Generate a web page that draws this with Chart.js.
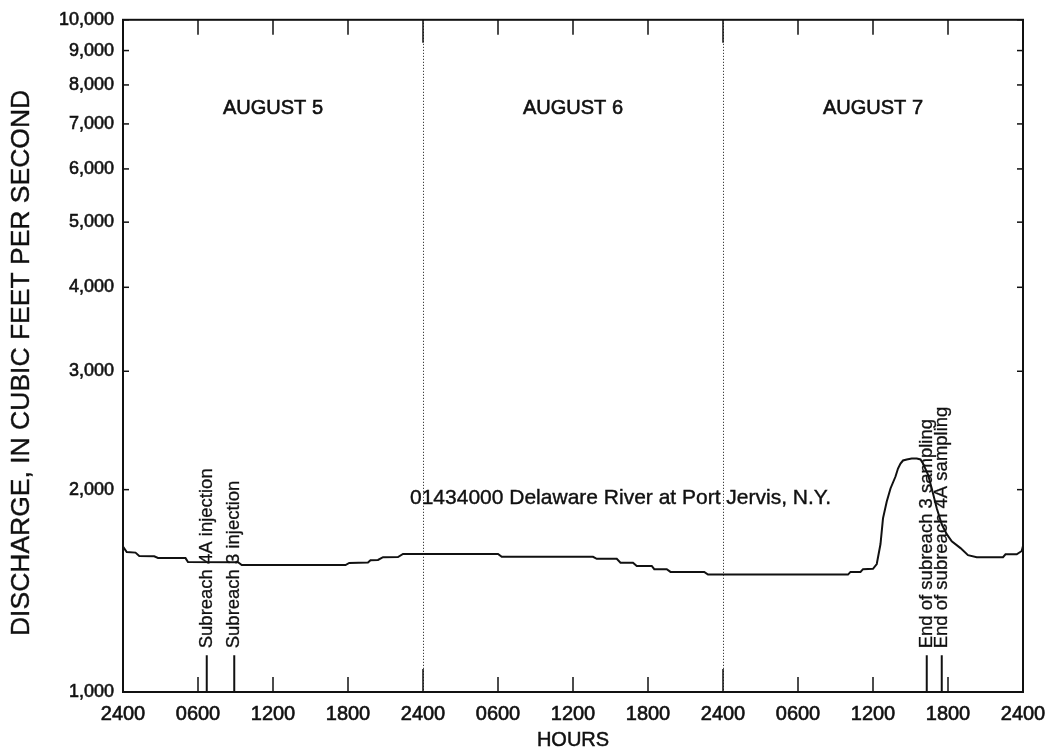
<!DOCTYPE html>
<html>
<head>
<meta charset="utf-8">
<title>Delaware River at Port Jervis</title>
<script src="https://cdn.jsdelivr.net/npm/chart.js@4.4.1/dist/chart.umd.min.js"></script>
<style>
  html, body { margin: 0; padding: 0; background: #fff; }
  #wrap { width: 1056px; height: 754px; }
</style>
</head>
<body>
<div id="wrap"><canvas id="chart" width="1056" height="754"></canvas></div>
<script>
(function () {
    'use strict';

    // Hours since 2400 on August 4, and discharge in cubic feet per second
    const hours = [0, 0.3, 1.0, 1.3, 2.5, 2.8, 5.0, 5.2, 9.2, 9.5,
        17.8, 18.1, 19.6, 19.8, 20.4, 20.8, 22.0, 22.4, 30.0, 30.3,
        37.6, 37.9, 39.5, 39.8, 40.8, 41.1, 42.3, 42.5, 43.5, 43.8,
        46.5, 46.8, 58.0, 58.2, 59.0, 59.2, 60.0, 60.3, 60.6, 60.8,
        61.1, 61.4, 61.8, 62.0, 62.2, 62.4, 62.7, 63.1, 63.5, 63.8,
        64.0, 64.4, 64.7, 65.1, 65.5, 65.9, 66.3, 67.0, 67.6, 68.3,
        70.4, 70.6, 71.5, 71.9, 72.0];
    const discharge = [1645, 1615, 1612, 1594, 1592, 1583, 1582, 1561, 1560, 1545,
        1545, 1556, 1558, 1570, 1572, 1587, 1588, 1605, 1605, 1589,
        1589, 1578, 1578, 1557, 1557, 1540, 1540, 1523, 1523, 1509,
        1509, 1495, 1495, 1509, 1509, 1523, 1525, 1550, 1660, 1813,
        1921, 2008, 2092, 2150, 2187, 2210, 2218, 2225, 2225, 2218,
        2187, 2106, 2008, 1876, 1776, 1717, 1676, 1637, 1598, 1587,
        1587, 1603, 1603, 1621, 1649];

    // Dye injection / sampling events
    const eventHours = [6.7, 8.9, 64.3, 65.5];
    const eventLabels = ['Subreach 4A injection', 'Subreach 3 injection',
        'End of subreach 3 sampling', 'End of subreach 4A sampling'];
    const eventTop = 1134;

    const xTickValues = [0, 6, 12, 18, 24, 30, 36, 42, 48, 54, 60, 66, 72];
    const xTickLabels = ['2400', '0600', '1200', '1800', '2400', '0600', '1200',
        '1800', '2400', '0600', '1200', '1800', '2400'];
    const yTickValues = [1000, 2000, 3000, 4000, 5000, 6000, 7000, 8000, 9000, 10000];

    const dayLabels = ['AUGUST 5', 'AUGUST 6', 'AUGUST 7'];
    const dayCenters = [12, 36, 60];
    const dayBreaks = [24, 48];
    const stationName = '01434000 Delaware River at Port Jervis, N.Y.';
    const yTitle = 'DISCHARGE, IN CUBIC FEET PER SECOND';
    const xTitle = 'HOURS';

    const FONT = "'Liberation Sans', Arial, Helvetica, sans-serif";
    const INK = '#111';

    const datasets = [{
        data: hours.map((h, i) => ({ x: h, y: discharge[i] })),
        borderColor: INK,
        borderWidth: 2,
        pointRadius: 0,
        tension: 0
    }];
    eventHours.forEach(h => {
        datasets.push({
            data: [{ x: h, y: 1000 }, { x: h, y: eventTop }],
            borderColor: INK,
            borderWidth: 2,
            pointRadius: 0
        });
    });

    function line(ctx, x1, y1, x2, y2) {
        ctx.beginPath();
        ctx.moveTo(x1, y1);
        ctx.lineTo(x2, y2);
        ctx.stroke();
    }

    // filled text with a thin outline so it reads as heavy as the printed labels
    function text(ctx, str, x, y, stroke) {
        ctx.fillText(str, x, y);
        if (stroke) {
            ctx.lineWidth = stroke;
            ctx.strokeText(str, x, y);
        }
    }

    // Frame, inward tick marks, day separators and text notes
    const decorations = {
        id: 'decorations',
        beforeDatasetsDraw(chart) {
            const { ctx, chartArea: a, scales: { x } } = chart;
            ctx.save();
            ctx.strokeStyle = INK;
            ctx.lineWidth = 1;
            ctx.setLineDash([1, 2]);
            dayBreaks.forEach(h => {
                const px = Math.round(x.getPixelForValue(h)) + 0.5;
                line(ctx, px, a.top, px, a.bottom);
            });
            ctx.restore();
        },
        afterDatasetsDraw(chart) {
            const { ctx, chartArea: a, scales: { x, y } } = chart;
            ctx.save();
            ctx.strokeStyle = INK;
            ctx.fillStyle = INK;

            ctx.lineWidth = 2;
            ctx.strokeRect(a.left, a.top, a.right - a.left, a.bottom - a.top);

            ctx.lineWidth = 1.5;
            x.ticks.forEach(t => {
                const px = x.getPixelForValue(t.value);
                const len = t.value % 24 === 0 ? 23 : 15;
                line(ctx, px, a.bottom, px, a.bottom - len);
                line(ctx, px, a.top, px, a.top + len);
            });
            y.ticks.forEach(t => {
                const py = y.getPixelForValue(t.value);
                line(ctx, a.left, py, a.left + 6, py);
                line(ctx, a.right, py, a.right - 6, py);
            });

            ctx.textAlign = 'center';
            ctx.textBaseline = 'middle';
            ctx.font = '20px ' + FONT;
            dayLabels.forEach((txt, i) => {
                text(ctx, txt, x.getPixelForValue(dayCenters[i]), y.getPixelForValue(7370), 0.6);
            });

            ctx.font = '21px ' + FONT;
            text(ctx, stationName, x.getPixelForValue(39.8), y.getPixelForValue(1940), 0.4);

            // axis titles
            ctx.font = '20px ' + FONT;
            text(ctx, xTitle, (a.left + a.right) / 2, 740, 0.5);

            ctx.save();
            ctx.font = '26.5px ' + FONT;
            ctx.translate(22, (a.top + a.bottom) / 2 + 7);
            ctx.rotate(-Math.PI / 2);
            text(ctx, yTitle, 0, 0, 0.4);
            ctx.restore();

            ctx.font = '18.5px ' + FONT;
            ctx.textAlign = 'left';
            eventLabels.forEach((txt, i) => {
                ctx.save();
                ctx.translate(x.getPixelForValue(eventHours[i]), y.getPixelForValue(eventTop) - 7);
                ctx.rotate(-Math.PI / 2);
                text(ctx, txt, 0, 0, 0.3);
                ctx.restore();
            });
            ctx.restore();
        }
    };

    new Chart(document.getElementById('chart'), {
        type: 'line',
        data: { datasets },
        plugins: [decorations],
        options: {
            responsive: false,
            animation: false,
            devicePixelRatio: 1,
            layout: { padding: { left: 0, top: 15, right: 33, bottom: 0 } },
            plugins: { legend: { display: false }, tooltip: { enabled: false } },
            scales: {
                x: {
                    type: 'linear',
                    min: 0,
                    max: 72,
                    afterFit: s => { s.height = 62; },
                    afterBuildTicks: s => { s.ticks = xTickValues.map(v => ({ value: v })); },
                    grid: { display: false, drawTicks: false },
                    border: { display: false },
                    ticks: {
                        autoSkip: false,
                        maxRotation: 0,
                        padding: 10,
                        color: INK,
                        textStrokeColor: INK,
                        textStrokeWidth: 0.6,
                        font: { family: FONT, size: 20 },
                        callback: (v, i) => xTickLabels[i]
                    }
                },
                y: {
                    type: 'logarithmic',
                    min: 1000,
                    max: 10000,
                    afterFit: s => { s.width = 123; },
                    afterBuildTicks: s => { s.ticks = yTickValues.map(v => ({ value: v })); },
                    grid: { display: false, drawTicks: false },
                    border: { display: false },
                    ticks: {
                        padding: 9,
                        color: INK,
                        textStrokeColor: INK,
                        textStrokeWidth: 0.6,
                        font: { family: FONT, size: 18 },
                        callback: v => Number(v).toLocaleString('en-US')
                    }
                }
            }
        }
    });
})();
</script>
</body>
</html>
